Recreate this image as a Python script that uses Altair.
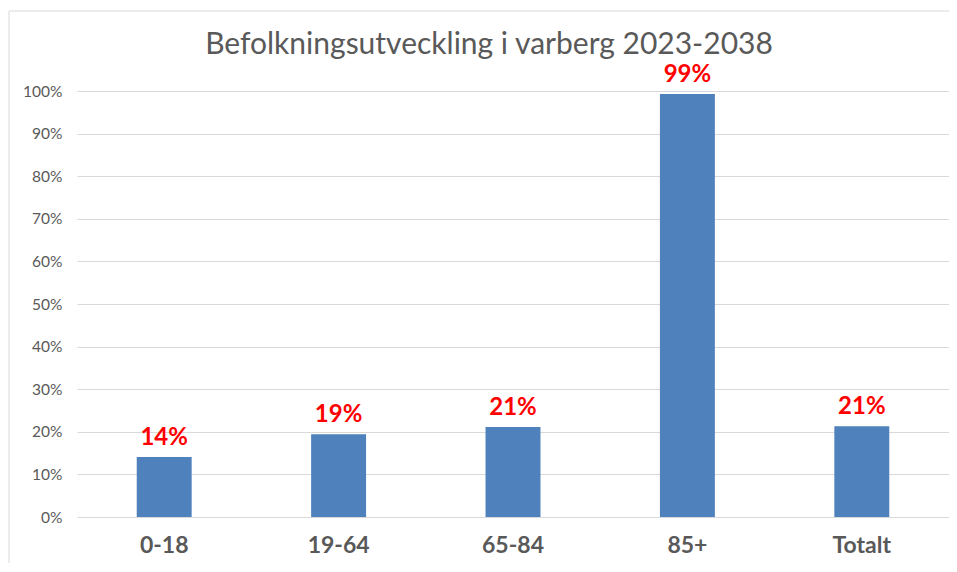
import altair as alt
import pandas as pd

categories = ["0-18", "19-64", "65-84", "85+", "Totalt"]
values = [0.141, 0.194, 0.211, 0.993, 0.213]
y_ticks = [0, 0.1, 0.2, 0.3, 0.4, 0.5, 0.6, 0.7, 0.8, 0.9, 1.0]
title_text = "Befolkningsutveckling i varberg 2023-2038"

df = pd.DataFrame({"kategori": categories, "andel": values})

FONT = "Lato"
GRAY = "#595959"

x_enc = alt.X(
    "kategori:N",
    sort=categories,
    scale=alt.Scale(paddingInner=0.685, paddingOuter=0.3425),
    axis=alt.Axis(
        title=None,
        labelAngle=0,
        labelFont=FONT,
        labelFontSize=23,
        labelFontWeight="bold",
        labelColor=GRAY,
        labelPadding=17,
        labelBaseline="top",
        ticks=False,
        domain=False,
        grid=False,
    ),
)
y_enc = alt.Y(
    "andel:Q",
    scale=alt.Scale(domain=[0, 1.0], nice=False),
    axis=alt.Axis(
        title=None,
        values=y_ticks,
        format=".0%",
        labelFont=FONT,
        labelFontSize=15.5,
        labelColor=GRAY,
        labelPadding=15,
        ticks=False,
        domain=False,
        gridColor="#d9d9d9",
        gridWidth=1,
    ),
)

base = alt.Chart(df)

bars = base.mark_bar(color="#4f81bd").encode(x=x_enc, y=y_enc)

labels = base.mark_text(
    color="#ff0000",
    font=FONT,
    fontSize=24,
    fontWeight="bold",
    baseline="bottom",
    dy=-7,
).encode(x=x_enc, y=y_enc, text=alt.Text("andel:Q", format=".0%"))

title_df = pd.DataFrame({"t": [title_text]})
title_mark = alt.Chart(title_df).mark_text(
    font=FONT,
    fontSize=30,
    color=GRAY,
    align="center",
    baseline="alphabetic",
).encode(text="t:N", x=alt.value(412), y=alt.value(-37))

frame_left = alt.Chart(title_df).mark_rule(
    stroke="#d9d9d9", strokeWidth=1
).encode(x=alt.value(-68), y=alt.value(-80), y2=alt.value(472))

frame_top = alt.Chart(title_df).mark_rule(
    stroke="#d9d9d9", strokeWidth=1
).encode(x=alt.value(-68), x2=alt.value(872), y=alt.value(-80))

chart = (
    alt.layer(frame_left, frame_top, bars, labels, title_mark)
    .properties(
        width=872,
        height=426,
        background="white",
        autosize=alt.AutoSizeParams(type="none"),
        padding={"left": 69, "top": 83, "right": 0, "bottom": 47},
    )
    .configure_view(stroke=None)
)

chart.save("out.html", embed_options={"renderer": "svg", "actions": False})
